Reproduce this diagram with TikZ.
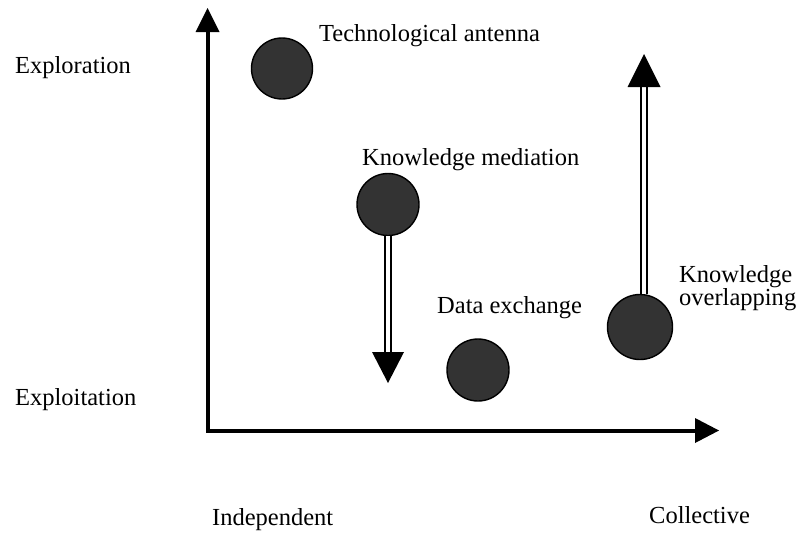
\documentclass[tikz,border=0pt]{standalone}
\usepackage{fontspec}
\setmainfont{Liberation Serif}
\usetikzlibrary{calc}
\definecolor{dotgray}{HTML}{333333}
\begin{document}
\begin{tikzpicture}[x=1pt,y=-1pt,
  lbl/.style={anchor=base west,inner sep=0pt,font=\fontsize{24.5}{24}\selectfont},
  dot/.style={circle,draw=black,line width=1.4pt,fill=dotgray,inner sep=0pt,minimum size=#1},
  axisline/.style={line width=4pt,line join=miter},
  shaft/.style={draw=black,line width=2.2pt,double=white,double distance=3.6pt},
  head/.style={fill=black}]
\useasboundingbox (0,0) rectangle (799,533);

% axes
\coordinate (origin) at (207.5,430.5);
\coordinate (yhead) at (207.5,32);
\coordinate (xhead) at (695,430.5);
\draw[axisline] (yhead) -- (origin) -- (xhead);
\fill[head] (yhead) ++(-12,0) -- ++(12,-24) -- ++(12,24) -- cycle;
\fill[head] (xhead) ++(0,-12.5) -- ++(24,12.5) -- ++(-24,12.5) -- cycle;

% axis labels
\node[lbl] (explor) at (15,73) {Exploration};
\node[lbl] (exploit) at (15,405) {Exploitation};
\node[lbl] (indep) at (212,525) {Independent};
\node[lbl] (coll) at (649,523) {Collective};

% modes
\node[dot=61pt] (ta) at (282,68.5) {};
\node[dot=62pt] (km) at (388,204.5) {};
\node[dot=62pt] (de) at (478,370) {};
\node[dot=65pt] (ko) at (640,327) {};

\node[lbl] (talbl) at (319,41) {Technological antenna};
\node[lbl] (kmlbl) at (362,165) {Knowledge mediation};
\node[lbl] (delbl) at (437,313) {Data exchange};
\node[lbl] (kolbl1) at (679,282) {Knowledge};
\node[lbl] (kolbl2) at (679,305) {overlapping};

% movement arrows
\coordinate (kmhead) at (388,352);
\draw[shaft] (km.south) -- ($(kmhead)+(0,1)$);
\fill[head] (kmhead) ++(-16,0) -- ++(16,31) -- ++(16,-31) -- cycle;

\coordinate (kohead) at (644,87);
\draw[shaft] (kohead |- ko.north) -- ($(kohead)+(0,-1)$);
\fill[head] (kohead) ++(-16.5,0) -- ++(16.5,-33) -- ++(16.5,33) -- cycle;
\end{tikzpicture}
\end{document}
